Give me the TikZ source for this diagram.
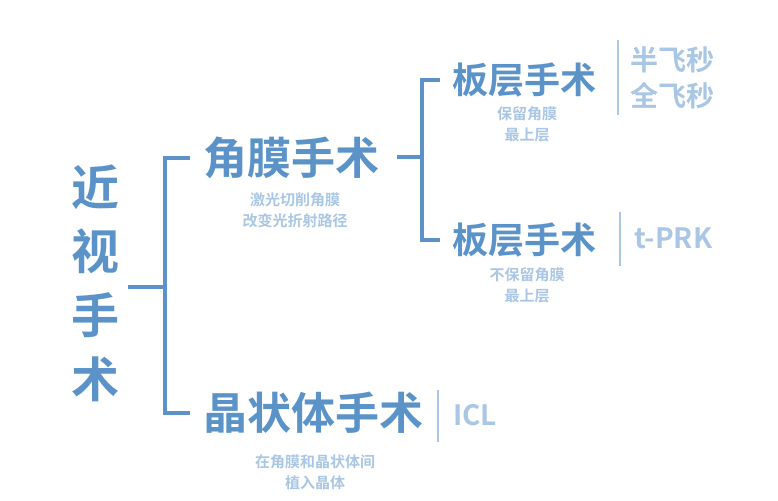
\documentclass[tikz,border=0pt]{standalone}
\usepackage{fontspec}
\setmainfont{Noto Sans CJK SC}[BoldFont={* Bold}]
\definecolor{dk}{HTML}{5B93C9}
\definecolor{lt}{HTML}{A9C6E4}
\begin{document}
\begin{tikzpicture}[x=1pt,y=-1pt,
  br/.style={draw=dk,line width=4pt},
  sep/.style={draw=lt,line width=2.5pt},
  big/.style={text=dk,font=\bfseries\fontsize{44}{46}\selectfont,inner sep=0},
  mid/.style={text=dk,font=\bfseries\fontsize{36}{38}\selectfont,inner sep=0},
  leaf/.style={text=lt,font=\bfseries\fontsize{28}{36}\selectfont,inner sep=0,align=left},
  sub/.style={text=lt,font=\bfseries\fontsize{15}{21}\selectfont,inner sep=0,align=center}]
\path[use as bounding box] (0,0) rectangle (778,500);
\node[big,align=center,font=\bfseries\fontsize{48}{64}\selectfont] (root) at (95,283) {近\\视\\手\\术};
\node[big,anchor=west] (jm) at (203,158) {角膜手术};
\node[sub] (jms) at (295,210) {激光切削角膜\\改变光折射路径};
\node[big,anchor=west] (jz) at (203,413) {晶状体手术};
\node[sub] (jzs) at (315,472) {在角膜和晶状体间\\植入晶体};
\node[mid,anchor=west] (b1) at (452,80) {板层手术};
\node[sub] (b1s) at (527,124) {保留角膜\\最上层};
\node[mid,anchor=west] (b2) at (452,240) {板层手术};
\node[sub] (b2s) at (527,285) {不保留角膜\\最上层};
\node[leaf,anchor=west] (f) at (630,78) {半飞秒\\全飞秒};
\node[leaf,anchor=west] (t) at (634,238) {t-PRK};
\node[leaf,anchor=west] (icl) at (453,415) {ICL};
\coordinate (s1a) at (618,40); \coordinate (s1b) at (618,115);
\coordinate (s2a) at (620,212); \coordinate (s2b) at (620,266);
\coordinate (s3a) at (438,390); \coordinate (s3b) at (438,442);
\draw[sep] (s1a) -- (s1b); \draw[sep] (s2a) -- (s2b); \draw[sep] (s3a) -- (s3b);
\draw[br] (128,287) -- (165,287);
\draw[br] (190,158) -- (165,158) -- (165,413) -- (190,413);
\draw[br] (397,157) -- (422,157);
\draw[br] (440,80) -- (422,80) -- (422,240) -- (440,240);
\end{tikzpicture}
\end{document}
